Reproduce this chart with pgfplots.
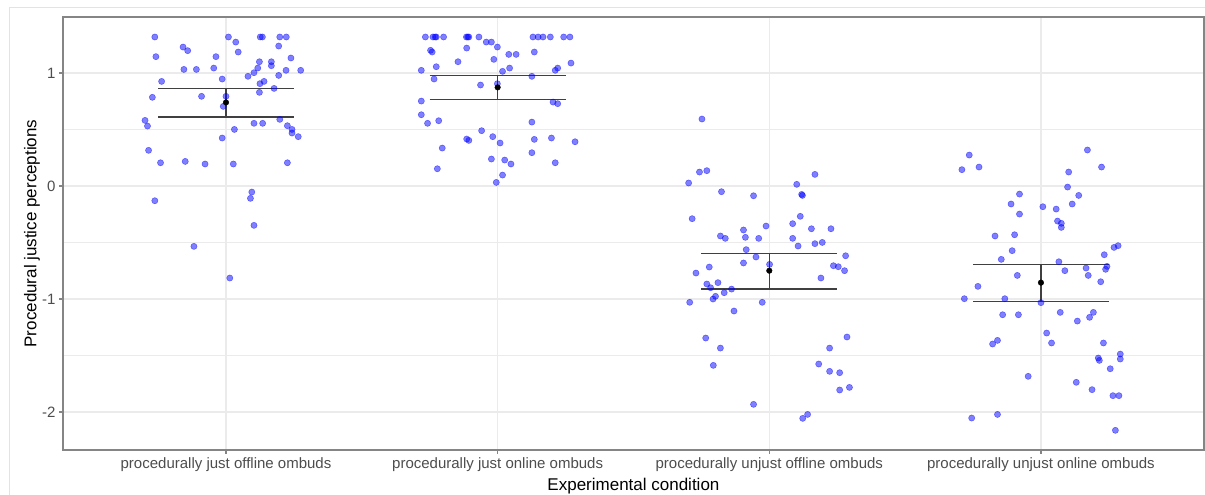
\documentclass[border=0pt]{standalone}
\usepackage{fontspec}
\setmainfont{Liberation Sans}
\usepackage{pgfplots}
\usepackage{pgfplotstable}
\pgfplotsset{compat=1.18}
\definecolor{gridc}{HTML}{EBEBEB}
\definecolor{bordc}{HTML}{858585}
\definecolor{tickc}{HTML}{4D4D4D}
\definecolor{ptc}{HTML}{0000FF}
\definecolor{frc}{HTML}{E3E3E3}

\pgfplotstableread{
x y
0.738 1.319
1.009 1.319
1.126 1.319
1.134 1.319
1.198 1.319
1.222 1.319
1.036 1.274
0.842 1.230
0.859 1.198
1.045 1.186
1.194 1.239
0.742 1.145
0.963 1.145
1.239 1.133
1.123 1.100
1.167 1.100
1.167 1.065
0.845 1.032
0.891 1.032
0.955 1.044
1.117 1.044
1.103 1.003
1.081 0.971
1.221 1.024
1.275 1.024
1.194 0.979
0.763 0.926
0.986 0.947
1.140 0.926
1.125 0.906
1.177 0.864
1.123 0.829
0.729 0.785
0.910 0.794
1.000 0.794
0.990 0.705
0.702 0.581
0.711 0.531
1.198 0.590
1.103 0.555
1.135 0.555
1.226 0.534
1.243 0.501
1.243 0.469
1.266 0.437
1.031 0.501
0.986 0.425
0.715 0.316
0.759 0.206
0.850 0.218
0.923 0.195
1.027 0.195
1.226 0.206
1.095 -0.053
1.090 -0.109
0.738 -0.130
1.103 -0.348
0.882 -0.534
1.014 -0.814
}\groupA

\pgfplotstableread{
x y
1.734 1.319
1.762 1.319
1.770 1.319
1.774 1.319
1.801 1.319
1.885 1.319
1.890 1.319
1.894 1.319
1.931 1.319
2.130 1.319
2.149 1.319
2.167 1.319
2.194 1.319
2.243 1.319
2.266 1.319
1.958 1.274
1.977 1.274
1.999 1.230
1.753 1.201
1.759 1.186
1.886 1.221
2.135 1.186
2.041 1.165
2.068 1.165
1.986 1.121
1.854 1.100
2.270 1.088
1.774 1.056
2.044 1.044
2.221 1.044
2.212 1.024
1.719 1.024
2.018 1.015
2.126 0.971
1.766 0.947
1.937 0.894
1.999 0.906
1.719 0.752
2.204 0.743
2.221 0.729
1.719 0.631
1.742 0.555
1.783 0.578
2.126 0.566
1.941 0.490
1.886 0.416
1.894 0.404
1.982 0.437
2.009 0.381
2.135 0.413
2.198 0.425
2.285 0.392
1.796 0.336
2.126 0.295
1.977 0.239
2.026 0.230
2.049 0.195
2.212 0.206
1.778 0.153
2.018 0.097
1.995 0.032
}\groupB

\pgfplotstableread{
x y
2.752 0.593
2.743 0.124
2.770 0.136
2.703 0.027
2.824 -0.050
2.942 -0.086
3.168 0.103
3.101 0.015
3.119 -0.074
3.122 -0.083
2.716 -0.289
3.114 -0.268
3.086 -0.333
2.988 -0.354
2.905 -0.389
3.155 -0.378
3.227 -0.378
2.820 -0.442
2.838 -0.463
2.912 -0.454
2.961 -0.463
3.086 -0.463
3.106 -0.531
3.168 -0.510
3.195 -0.499
2.915 -0.563
3.281 -0.617
2.951 -0.628
2.905 -0.681
3.001 -0.693
2.779 -0.717
3.236 -0.705
3.254 -0.714
3.277 -0.749
2.730 -0.770
3.190 -0.814
2.770 -0.867
2.784 -0.900
2.811 -0.855
2.861 -0.912
2.834 -0.944
2.802 -0.976
2.793 -1.000
2.707 -1.029
2.974 -1.029
2.870 -1.106
2.766 -1.345
3.286 -1.336
2.820 -1.434
3.222 -1.434
2.794 -1.587
3.182 -1.575
3.222 -1.640
3.259 -1.652
3.259 -1.805
3.295 -1.782
2.942 -1.932
3.141 -2.021
3.123 -2.056
}\groupC

\pgfplotstableread{
x y
3.736 0.274
3.709 0.145
3.772 0.168
4.171 0.319
4.223 0.168
4.102 0.124
4.098 -0.009
4.139 -0.083
4.115 -0.159
3.921 -0.071
3.890 -0.159
3.921 -0.248
4.007 -0.183
4.056 -0.204
4.061 -0.310
4.075 -0.330
4.075 -0.366
3.831 -0.442
3.903 -0.431
4.269 -0.543
4.284 -0.528
3.894 -0.572
4.233 -0.608
3.854 -0.649
4.066 -0.670
4.243 -0.711
4.238 -0.737
4.166 -0.726
4.088 -0.749
4.174 -0.791
3.913 -0.791
4.220 -0.847
3.768 -0.888
3.718 -0.997
3.867 -0.997
4.000 -1.032
3.859 -1.139
3.917 -1.139
4.071 -1.118
4.193 -1.118
4.179 -1.162
4.134 -1.195
4.021 -1.301
4.039 -1.389
3.840 -1.366
3.822 -1.398
4.230 -1.389
4.292 -1.487
4.292 -1.531
4.211 -1.522
4.215 -1.543
4.255 -1.617
3.953 -1.684
4.130 -1.737
4.188 -1.802
4.265 -1.855
4.287 -1.855
3.745 -2.053
3.840 -2.021
4.274 -2.162
}\groupD

\pgfplotstableread{
x y
0.75 0.861
1.25 0.861
nan nan
0.75 0.611
1.25 0.611
nan nan
1 0.611
1 0.861
nan nan
1.75 0.979
2.25 0.979
nan nan
1.75 0.764
2.25 0.764
nan nan
2 0.764
2 0.979
nan nan
2.75 -0.596
3.25 -0.596
nan nan
2.75 -0.912
3.25 -0.912
nan nan
3 -0.912
3 -0.596
nan nan
3.75 -0.693
4.25 -0.693
nan nan
3.75 -1.021
4.25 -1.021
nan nan
4 -1.021
4 -0.693
}\errbars

\pgfplotstableread{
x y
1 0.740
2 0.873
3 -0.749
4 -0.855
}\means

\begin{document}
\begin{tikzpicture}
\begin{axis}[
  at={(0pt,0pt)}, anchor=south west,
  scale only axis, width=1141pt, height=433pt,
  xmin=0.4, xmax=4.6, ymin=-2.336, ymax=1.496,
  xtick={1,2,3,4},
  xticklabels={procedurally just offline ombuds, procedurally just online ombuds, procedurally unjust offline ombuds, procedurally unjust online ombuds},
  ytick={-2,-1,0,1}, yticklabels={-2,-1,0,1},
  minor ytick={-1.5,-0.5,0.5},
  grid=both,
  major grid style={gridc, line width=1.1pt},
  minor grid style={gridc, line width=0.6pt},
  tick pos=left, tick align=outside,
  major tick length=4pt, minor tick length=0pt,
  tick style={bordc, line width=1.1pt},
  axis line style={bordc, line width=1.6pt},
  ticklabel style={font=\fontsize{15}{18}\selectfont, text=tickc},
  xlabel={Experimental condition},
  ylabel={Procedural justice perceptions},
  label style={font=\fontsize{17}{20}\selectfont},
  xlabel style={at={(axis description cs:0.5,-0.0831)}, anchor=center},
  ylabel style={at={(axis description cs:-0.0272,0.5)}, anchor=center},
  unbounded coords=jump,
]
\addplot[only marks, mark=*, mark size=3.1pt, mark options={fill=ptc, fill opacity=0.5, draw=ptc, draw opacity=0.5, line width=0.5pt}] table {\groupA};
\addplot[only marks, mark=*, mark size=3.1pt, mark options={fill=ptc, fill opacity=0.5, draw=ptc, draw opacity=0.5, line width=0.5pt}] table {\groupB};
\addplot[only marks, mark=*, mark size=3.1pt, mark options={fill=ptc, fill opacity=0.5, draw=ptc, draw opacity=0.5, line width=0.5pt}] table {\groupC};
\addplot[only marks, mark=*, mark size=3.1pt, mark options={fill=ptc, fill opacity=0.5, draw=ptc, draw opacity=0.5, line width=0.5pt}] table {\groupD};
\addplot[black!75, line width=1.5pt, no marks] table {\errbars};
\addplot[only marks, mark=*, mark size=2.8pt, black] table {\means};
\end{axis}
\draw[frc, line width=1pt] (-53pt,-45pt) -- (-53pt,442pt) -- (1142pt,442pt);
\pgfresetboundingbox
\path[use as bounding box] (-63pt,-45pt) rectangle (1142pt,450pt);
\end{tikzpicture}
\end{document}
